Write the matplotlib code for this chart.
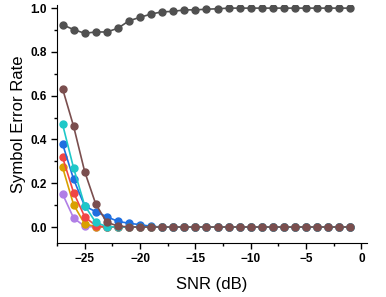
import matplotlib.pyplot as plt
import numpy as np

plt.rcParams['font.family'] = ['Liberation Sans', 'DejaVu Sans']

snr = list(range(-27, 0))

# symbol error rate per curve
ser_purple = [0.151, 0.041, 0.003] + [0.0] * 24
ser_orange = [0.273, 0.102, 0.014, 0.002] + [0.0] * 23
ser_red = [0.319, 0.157, 0.047, 0.006] + [0.0] * 23
ser_blue = [0.380, 0.218, 0.096, 0.070, 0.047, 0.026, 0.017, 0.011, 0.003] + [0.0] * 18
ser_cyan = [0.470, 0.269, 0.098, 0.021, 0.002] + [0.0] * 22
ser_brown = [0.632, 0.460, 0.253, 0.105, 0.021, 0.005] + [0.0] * 21
ser_gray = [0.924, 0.902, 0.885, 0.891, 0.891, 0.908, 0.942, 0.958, 0.973, 0.983,
            0.985, 0.992, 0.992, 0.995, 0.997] + [1.0] * 12

series = [
    (ser_purple, '#b07ee6'),
    (ser_orange, '#d9a000'),
    (ser_red, '#f04545'),
    (ser_blue, '#1f6fe0'),
    (ser_cyan, '#1ec8c8'),
    (ser_brown, '#7a4e4e'),
    (ser_gray, '#505050'),
]

fig = plt.figure(figsize=(3.86, 2.97), dpi=100)
ax = fig.add_axes([0.1477, 0.1818, 0.803, 0.8012])

for vals, col in series:
    ax.plot(snr, vals, '-o', color=col, lw=1.2, ms=5)

ax.set_xlim(-27.5, 0.5)
ax.set_ylim(-0.073, 1.014)
ax.set_xticks([-25, -20, -15, -10, -5, 0])
ax.set_xticks(np.arange(-27.5, 0.6, 2.5), minor=True)
ax.set_yticks([0.0, 0.2, 0.4, 0.6, 0.8, 1.0])
ax.set_yticks(np.arange(-0.1, 1.01, 0.1)[1:], minor=True)
ax.set_yticklabels(['0.0', '0.2', '0.4', '0.6', '0.8', '1.0'])
ax.tick_params(which='major', length=4, width=1, labelsize=8.5)
ax.tick_params(which='minor', length=2, width=1)
for lab in ax.get_xticklabels() + ax.get_yticklabels():
    lab.set_fontweight('bold')

ax.spines['top'].set_visible(False)
ax.spines['right'].set_visible(False)
ax.set_xlabel('SNR (dB)', fontsize=12, labelpad=8)
ax.set_ylabel('Symbol Error Rate', fontsize=12, labelpad=3)

fig.savefig('out.png', dpi=100)
